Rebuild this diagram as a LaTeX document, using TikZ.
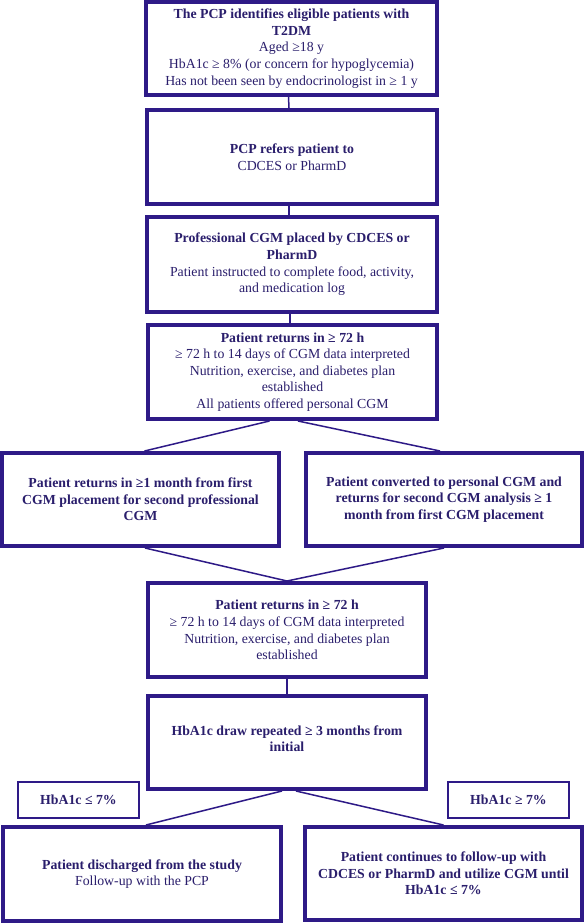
\documentclass[tikz,border=0pt]{standalone}
\usepackage{fontspec}
\setmainfont{Liberation Serif}
\usetikzlibrary{calc}
\definecolor{boxc}{RGB}{46,26,135}
\definecolor{txtc}{RGB}{42,30,108}
\begin{document}
\begin{tikzpicture}[x=1pt,y=-1pt,
  box/.style={draw=boxc, line width=4pt, rectangle, align=center, text=txtc,
    font=\fontsize{13.8}{16.6}\selectfont, inner sep=2pt},
  lbl/.style={draw=boxc, line width=1.8pt, rectangle, align=center, text=txtc,
    font=\fontsize{13.8}{16.6}\selectfont\bfseries, inner sep=2pt,
    minimum width=121pt, minimum height=36pt},
  conn/.style={draw=boxc, line width=1.5pt}]
\useasboundingbox (0,0) rectangle (585,924);
\fill[white] (0,0) rectangle (585,924);

\node[box, minimum width=291pt, minimum height=93pt] (b1) at (291.5,48.5)
  {\textbf{The PCP identifies eligible patients with}\\\textbf{T2DM}\\Aged ≥18 y\\HbA1c ≥ 8\% (or concern for hypoglycemia)\\Has not been seen by endocrinologist in ≥ 1 y};
\node[box, minimum width=290pt, minimum height=94pt] (b2) at (292,157)
  {\textbf{PCP refers patient to}\\CDCES or PharmD};
\node[box, minimum width=290pt, minimum height=95pt] (b3) at (292,264.5)
  {\textbf{Professional CGM placed by CDCES or}\\\textbf{PharmD}\\Patient instructed to complete food, activity,\\and medication log};
\node[box, minimum width=289pt, minimum height=94pt] (b4) at (292.5,372)
  {\textbf{Patient returns in ≥ 72 h}\\≥ 72 h to 14 days of CGM data interpreted\\Nutrition, exercise, and diabetes plan\\established\\All patients offered personal CGM};
\node[box, minimum width=277pt, minimum height=93pt] (b5) at (140.5,499.5)
  {\textbf{Patient returns in ≥1 month from first}\\\textbf{CGM placement for second professional}\\\textbf{CGM}};
\node[box, minimum width=276pt, minimum height=93pt] (b6) at (444,499.5)
  {\textbf{Patient converted to personal CGM and}\\\textbf{returns for second CGM analysis ≥ 1}\\\textbf{month from first CGM placement}};
\node[box, minimum width=278pt, minimum height=94pt] (b7) at (287,630)
  {\textbf{Patient returns in ≥ 72 h}\\≥ 72 h to 14 days of CGM data interpreted\\Nutrition, exercise, and diabetes plan\\established};
\node[box, minimum width=278pt, minimum height=93pt] (b8) at (287,742.5)
  {\textbf{HbA1c draw repeated ≥ 3 months from}\\\textbf{initial}\\[-8.6pt]};
\node[lbl] (l1) at (78.5,800) {HbA1c ≤ 7\%};
\node[lbl] (l2) at (508.5,800) {HbA1c ≥ 7\%};
\node[box, minimum width=278pt, minimum height=94pt] (b9) at (142,874)
  {\textbf{Patient discharged from the study}\\Follow-up with the PCP};
\node[box, minimum width=277pt, minimum height=93pt] (b10) at (443.5,873.5)
  {\textbf{Patient continues to follow-up with}\\\textbf{CDCES or PharmD and utilize CGM until}\\\textbf{HbA1c ≤ 7\%}};

\draw[conn] ($(b1.south)+(-3,0)$) -- ($(b2.north)+(-3,0)$);
\draw[conn] ($(b2.south)+(-3,0)$) -- ($(b3.north)+(-3,0)$);
\draw[conn] ($(b3.south)+(-2,0)$) -- ($(b4.north)+(-2.5,0)$);
\draw[conn] ($(b4.south)+(-23,0)$) -- ($(b5.north)+(4,0)$);
\draw[conn] ($(b4.south)+(5.5,0)$) -- ($(b6.north)+(-4,0)$);
\draw[conn] ($(b5.south)+(4.5,0)$) -- (b7.north);
\draw[conn] (b6.south) -- (b7.north);
\draw[conn] (b7.south) -- (b8.north);
\draw[conn] ($(b8.south)+(-5,0)$) -- ($(b9.north)+(4,0)$);
\draw[conn] ($(b8.south)+(9,0)$) -- (b10.north);
\end{tikzpicture}
\end{document}
